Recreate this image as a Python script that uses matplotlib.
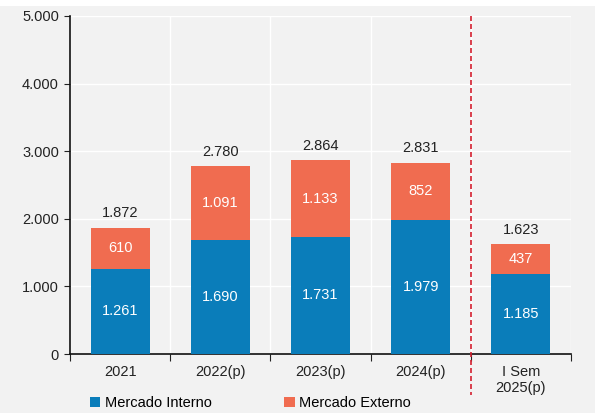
import matplotlib
matplotlib.use("Agg")
import matplotlib.pyplot as plt
from matplotlib.patches import Rectangle
import numpy as np

categories = ["2021", "2022(p)", "2023(p)", "2024(p)", "I Sem\n2025(p)"]
interno = [1261, 1690, 1731, 1979, 1185]
externo = [610, 1091, 1133, 852, 437]
totais = [1872, 2780, 2864, 2831, 1623]

def fmt(v):
    return f"{v:,}".replace(",", ".")

plt.rcParams['font.family'] = ['Liberation Sans', 'DejaVu Sans']
BLUE = "#0a7dba"
ORANGE = "#f06c50"
BG = "#f2f2f2"
FS = 10.5

fig = plt.figure(figsize=(5.95, 4.13), dpi=100, facecolor="white")
fig.patches.append(Rectangle((0, 0), 1, 1 - 6/413, transform=fig.transFigure,
                             facecolor=BG, edgecolor="none", zorder=-10))
ax = fig.add_axes([70/595, 1 - 354/413, (571-70)/595, (354-16)/413])
ax.set_facecolor(BG)

x = np.arange(len(categories))
w = 0.59
ax.bar(x, interno, w, color=BLUE, zorder=3, label="Mercado Interno")
ax.bar(x, externo, w, bottom=interno, color=ORANGE, zorder=3, label="Mercado Externo")

for i in range(len(categories)):
    ax.text(x[i], interno[i]/2, fmt(interno[i]), ha="center", va="center",
            color="white", fontsize=FS, zorder=4)
    ax.text(x[i], interno[i] + externo[i]/2, fmt(externo[i]), ha="center", va="center",
            color="white", fontsize=FS, zorder=4)
    ax.text(x[i], totais[i] + 110, fmt(totais[i]), ha="center", va="bottom",
            color="#222222", fontsize=FS, zorder=4)

ax.set_xlim(-0.5, len(categories) - 0.5)
ax.set_ylim(0, 5000)
ax.set_yticks(np.arange(0, 5001, 1000))
ax.set_yticklabels([fmt(v) for v in range(0, 5001, 1000)], fontsize=FS, color="#222222")
ax.set_xticks(np.arange(-0.5, len(categories), 1.0))
ax.set_xticklabels([])
ax.set_xticks(x, minor=True)
ax.set_xticklabels(categories, minor=True, fontsize=FS, color="#222222")
ax.tick_params(axis="x", which="minor", length=0, pad=8)
ax.tick_params(axis="x", which="major", length=5, direction="out", color="#222222")
ax.tick_params(axis="y", length=4, color="#222222", pad=4)
ax.grid(True, which="major", color="white", linewidth=1, zorder=0)
for s in ["top", "right"]:
    ax.spines[s].set_visible(False)
for s in ["left", "bottom"]:
    ax.spines[s].set_color("#111111")
    ax.spines[s].set_linewidth(1.2)

ax.plot([3.5, 3.5], [5000, -610], color="#d42030", linestyle=(0, (3, 1.8)),
        linewidth=1.2, clip_on=False, zorder=5)

leg = fig.legend(loc="center left", bbox_to_anchor=(90/595, 1 - 403/413), ncol=2,
                 frameon=False, fontsize=FS, handlelength=0.7, handleheight=0.7,
                 handletextpad=0.3, columnspacing=5.0, borderaxespad=0, borderpad=0)

fig.savefig("out.png", dpi=100, facecolor="white")
